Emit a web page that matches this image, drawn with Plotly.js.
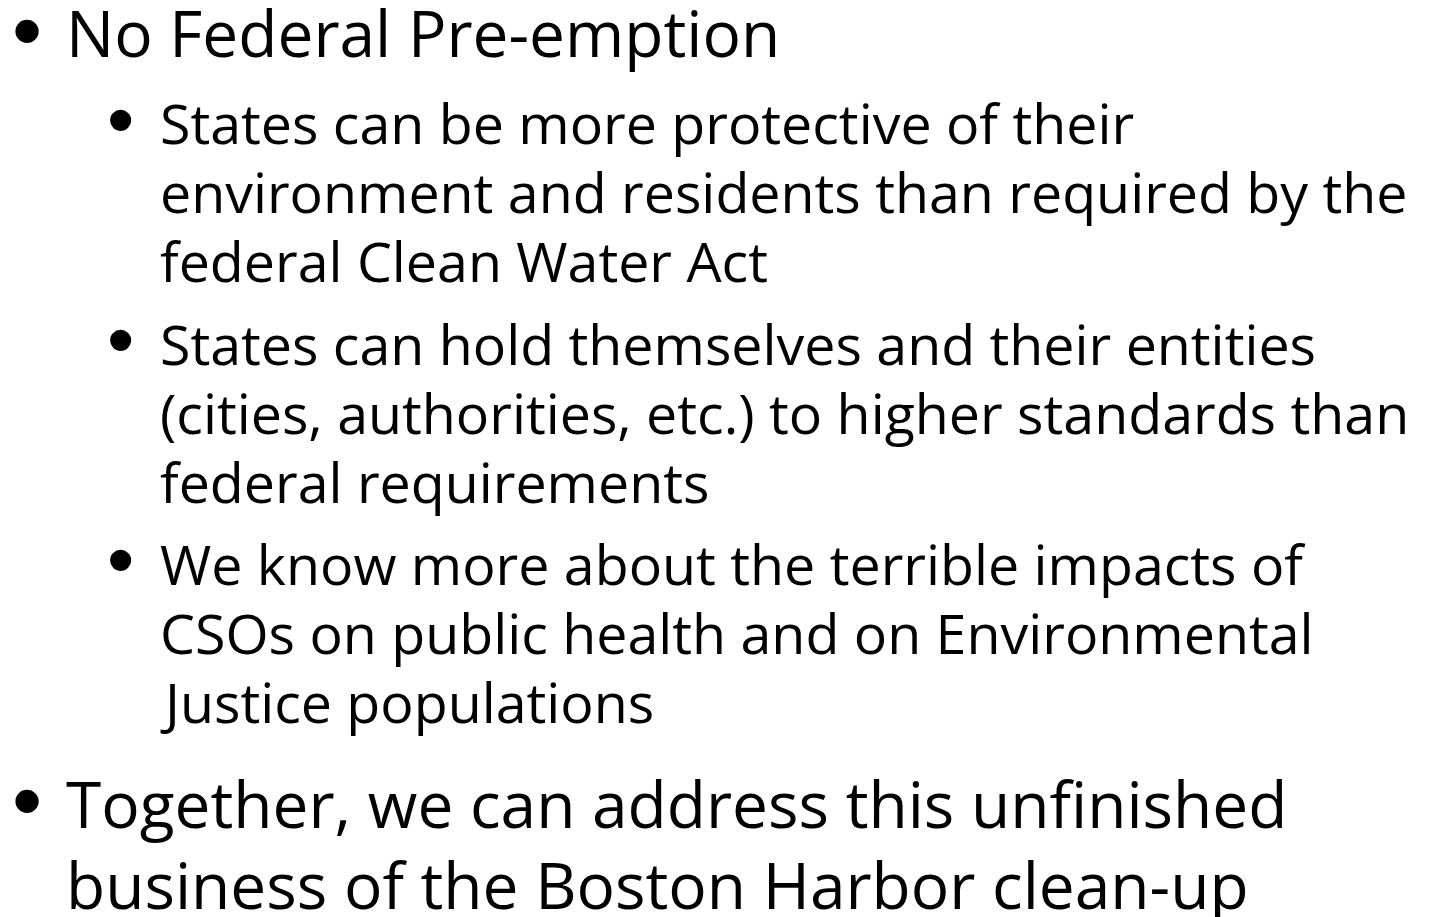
<!DOCTYPE html>
<html><head><meta charset="utf-8">
<script src="https://cdn.plot.ly/plotly-3.0.1.min.js"></script>
<style>html,body{margin:0;padding:0;background:#fff}#chart{width:1450px;height:917px}</style>
</head><body><div id="chart"></div>
<script>
// Slide content: each bullet is a list of wrapped lines, with an indent level
const bulletLevels = [0, 1, 1, 1, 0];
const bulletLines = [
  ["No Federal Pre-emption"],
  ["States can be more protective of their", "environment and residents than required by the", "federal Clean Water Act"],
  ["States can hold themselves and their entities", "(cities, authorities, etc.) to higher standards than", "federal requirements"],
  ["We know more about the terrible impacts of", "CSOs on public health and on Environmental", "Justice populations"],
  ["Together, we can address this unfinished", "business of the Boston Harbor clean-up"]
];

const W = 1450, H = 917;
const textFont = "Open Sans, sans-serif";
const bulletFont = "Liberation Sans, Arial, sans-serif";
const style = {
  0: {size: 64, bulletSize: 86, bulletX: 27, bulletDy: -3, textX: 64, lineH: 81},
  1: {size: 55.5, bulletSize: 78, bulletX: 121, bulletDy: -4, textX: 158, lineH: 69}
};
// first-line centre positions of each bullet (pixels from top)
const firstY = [33, 122.5, 343, 563, 803];

const annotations = [];
bulletLines.forEach((lines, i) => {
  const st = style[bulletLevels[i]];
  annotations.push({
    xref: 'paper', yref: 'paper', x: st.bulletX / W, y: 1 - (firstY[i] + st.bulletDy) / H,
    xanchor: 'center', yanchor: 'middle', showarrow: false, text: '•',
    font: {family: bulletFont, size: st.bulletSize, color: '#000'}
  });
  lines.forEach((ln, j) => {
    annotations.push({
      xref: 'paper', yref: 'paper', x: st.textX / W, y: 1 - (firstY[i] + j * st.lineH) / H,
      xanchor: 'left', yanchor: 'middle', showarrow: false, text: ln,
      font: {family: textFont, size: st.size, color: '#000'}
    });
  });
});

Plotly.newPlot('chart', [], {
  width: W, height: H,
  margin: {l: 0, r: 0, t: 0, b: 0},
  paper_bgcolor: '#fff', plot_bgcolor: '#fff',
  xaxis: {visible: false, range: [0, 1]},
  yaxis: {visible: false, range: [0, 1]},
  showlegend: false,
  annotations: annotations
}, {displayModeBar: false, staticPlot: true});
</script></body></html>
